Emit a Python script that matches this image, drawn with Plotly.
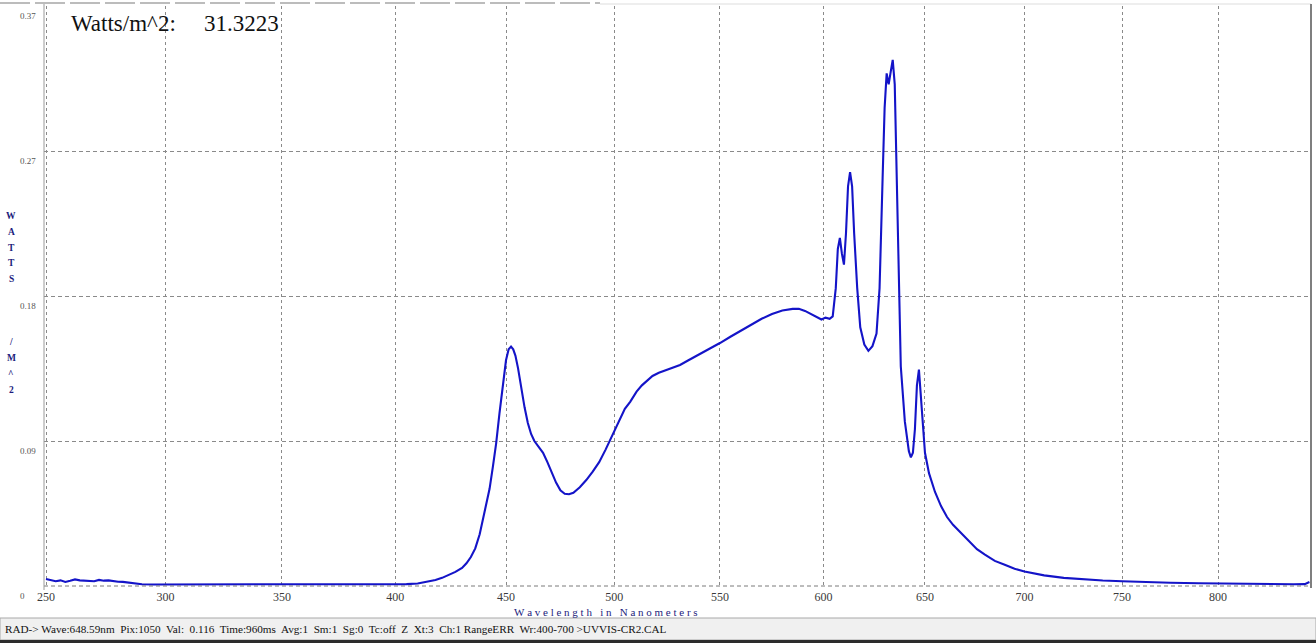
import numpy as np
import plotly.graph_objects as go

# ---------------- data ----------------
wavelength_nm = [
    250, 252, 254, 256, 258, 260, 262, 264, 266, 268, 270, 272, 274, 276, 278, 280,
    282, 284, 286, 288, 290, 295, 300, 310, 320, 330, 340, 350, 360, 370, 380, 390,
    400, 405, 410, 414, 418, 421, 424, 427, 430, 432, 434, 436, 438, 439.5, 441,
    442.5, 444, 445.5, 447, 448.5, 450, 451.2, 452.3, 453.3, 454.3, 455.5, 457,
    458.5, 460, 461.5, 463, 465, 467, 469, 471, 473, 475, 477, 479, 481, 484, 487,
    490, 493, 496, 498, 500.5, 503, 505, 507.5, 510.5, 513, 515.5, 518, 521, 524,
    528, 531, 535, 540, 545, 550, 555, 560, 565, 570, 575, 580, 585, 588, 591, 594,
    597, 599, 601, 603, 604.5, 606, 607, 608, 609, 610, 611, 612, 613, 614, 615,
    616.5, 618, 620, 622, 624, 626, 627.5, 629, 630, 631, 632, 633, 634, 635, 636,
    637, 638, 640, 642, 643, 644, 645, 646, 647, 648, 649, 650, 652, 655, 658, 661,
    664, 667, 670, 673, 676, 680, 685, 690, 695, 700, 710, 720, 730, 740, 750, 760,
    775, 790, 800, 820, 840, 846, 848.5,
]
irradiance_w_m2 = [
    0.0045, 0.0038, 0.0030, 0.0036, 0.0026, 0.0033, 0.0042, 0.0036, 0.0033, 0.0034,
    0.0030, 0.0039, 0.0034, 0.0036, 0.0029, 0.0027, 0.0026, 0.0022, 0.0018, 0.0012,
    0.0011, 0.0010, 0.0010, 0.0009, 0.0009, 0.0008, 0.0009, 0.0008, 0.0008, 0.0008,
    0.0009, 0.0009, 0.0010, 0.0012, 0.0016, 0.0025, 0.0038, 0.0052, 0.0070, 0.0090,
    0.0115, 0.0145, 0.0185, 0.0240, 0.0330, 0.0420, 0.0510, 0.0620, 0.0760, 0.0910,
    0.1100, 0.1280, 0.1440, 0.1510, 0.1527, 0.1510, 0.1470, 0.1390, 0.1260, 0.1140,
    0.1040, 0.0970, 0.0925, 0.0890, 0.0850, 0.0790, 0.0720, 0.0660, 0.0610, 0.0588,
    0.0585, 0.0595, 0.0630, 0.0676, 0.0730, 0.0790, 0.0870, 0.0930, 0.1000, 0.1080,
    0.1130, 0.1175, 0.1240, 0.1280, 0.1310, 0.1340, 0.1360, 0.1375, 0.1395, 0.1410,
    0.1440, 0.1475, 0.1510, 0.1550, 0.1590, 0.1630, 0.1670, 0.1705, 0.1735, 0.1758,
    0.1768, 0.1768, 0.1755, 0.1735, 0.1712, 0.1700, 0.1712, 0.1705, 0.1720, 0.1900,
    0.2150, 0.2220, 0.2120, 0.2050, 0.2250, 0.2550, 0.2640, 0.2550, 0.2250, 0.1900,
    0.1650, 0.1540, 0.1500, 0.1530, 0.1610, 0.1900, 0.2600, 0.3050, 0.3270, 0.3200,
    0.3280, 0.3356, 0.3200, 0.2600, 0.1900, 0.1400, 0.1050, 0.0860, 0.0820, 0.0850,
    0.1000, 0.1280, 0.1380, 0.1200, 0.0980, 0.0850, 0.0720, 0.0600, 0.0510, 0.0440,
    0.0390, 0.0350, 0.0310, 0.0270, 0.0235, 0.0200, 0.0160, 0.0135, 0.0110, 0.0092,
    0.0068, 0.0052, 0.0042, 0.0035, 0.0030, 0.0025, 0.0021, 0.0018, 0.0016, 0.0013,
    0.0011, 0.0012, 0.0025,
]

x_tick_nm = [250, 300, 350, 400, 450, 500, 550, 600, 650, 700, 750, 800]
x_tick_text = [str(v) for v in x_tick_nm]
y_tick_vals = [0, 0.0925, 0.185, 0.2775, 0.37]
y_tick_text = ["0", "0.09", "0.18", "0.27", "0.37"]

title_label = "Watts/m^2:"
title_value = "31.3223"
x_title = "Wavelength in Nanometers"
y_title_letters = ["W", "A", "T", "T", "S", "", "", "", "/", "M", "^", "2"]
status_text = ("RAD-> Wave:648.59nm  Pix:1050  Val:  0.116  Time:960ms  Avg:1  Sm:1  "
               "Sg:0  Tc:off  Z  Xt:3  Ch:1 RangeERR  Wr:400-700 >UVVIS-CR2.CAL")

# ------------- spectrometer calibration (pixel -> wavelength) -------------
# wavelength = c0 + c1*p + c2*p^2 ; axis is linear in detector pixel
C0, C1, C2 = 231.128, 0.40803, 4.8457e-5


def to_pix(w):
    w = np.asarray(w, dtype=float)
    return (-C1 + np.sqrt(C1 * C1 - 4 * C2 * (C0 - w))) / (2 * C2)


W, H = 1316, 643
L, R, T, B = 44, 1311, 6, 586          # plot area in screen px
X_RANGE = [L, R]                        # pixel axis == screen px


def xp(px):
    return (px - L) / (R - L)


def yp(py):
    return (B - py) / (B - T)


SERIF = "Liberation Serif, Times New Roman, serif"
NAVY = "#1c1c7c"

fig = go.Figure()
fig.add_trace(go.Scatter(
    x=to_pix(wavelength_nm), y=irradiance_w_m2, mode="lines",
    line=dict(color="#1414c8", width=2.1), hoverinfo="skip", showlegend=False,
))

annotations = []
# y tick labels (left aligned, just below each grid line)
for v, t in zip(y_tick_vals, y_tick_text):
    annotations.append(dict(
        x=xp(18), y=v, xref="paper", yref="y", text=t, showarrow=False,
        xanchor="left", yanchor="middle", yshift=-10,
        font=dict(family=SERIF, size=9, color="#555555"),
    ))
# vertical y-axis title letters
for i, ch in enumerate(y_title_letters):
    if ch:
        annotations.append(dict(
            x=xp(11), y=yp(216 + i * 15.8), xref="paper", yref="paper",
            text="<b>%s</b>" % ch, showarrow=False, xanchor="center",
            yanchor="middle", font=dict(family=SERIF, size=9.5, color=NAVY),
        ))
# x title with spaced letters
annotations.append(dict(
    x=xp(606), y=yp(612), xref="paper", yref="paper",
    text="&nbsp;".join(list(x_title)),
    showarrow=False, xanchor="center", yanchor="middle",
    font=dict(family=SERIF, size=11, color=NAVY),
))
# readout
annotations.append(dict(
    x=xp(69), y=yp(23), xref="paper", yref="paper", text=title_label,
    showarrow=False, xanchor="left", yanchor="middle",
    font=dict(family=SERIF, size=23, color="#111111"),
))
annotations.append(dict(
    x=xp(202), y=yp(23), xref="paper", yref="paper", text=title_value,
    showarrow=False, xanchor="left", yanchor="middle",
    font=dict(family=SERIF, size=23, color="#111111"),
))
# status bar text
annotations.append(dict(
    x=xp(3), y=yp(629), xref="paper", yref="paper", text=status_text,
    showarrow=False, xanchor="left", yanchor="middle",
    font=dict(family=SERIF, size=11.2, color="#111111"),
))

shapes = [
    # status bar
    dict(type="rect", xref="paper", yref="paper", x0=xp(0), x1=xp(W),
         y0=yp(618), y1=yp(640), fillcolor="#f0f0f0",
         line=dict(color="#a8a8a8", width=1), layer="below"),
    dict(type="rect", xref="paper", yref="paper", x0=xp(0), x1=xp(W),
         y0=yp(640), y1=yp(643), fillcolor="#2c2c2c", line=dict(width=0)),
    # top dashed strip
    dict(type="line", xref="paper", yref="paper", x0=xp(0), x1=xp(600),
         y0=yp(3), y1=yp(3), line=dict(color="#7a7a7a", width=1.2, dash="30px,5px")),
    dict(type="line", xref="paper", yref="paper", x0=xp(600), x1=xp(R),
         y0=yp(4), y1=yp(4), line=dict(color="#dddddd", width=1)),
    # baseline (dashed)
    dict(type="line", xref="paper", yref="paper", x0=0, x1=1, y0=0, y1=0,
         line=dict(color="#7a7a7a", width=1, dash="4px,3px")),
    # plot borders
    dict(type="line", xref="paper", yref="paper", x0=0, x1=0, y0=yp(B + 4), y1=yp(4),
         line=dict(color="#9a9a9a", width=1)),
    dict(type="line", xref="paper", yref="paper", x0=1, x1=1, y0=yp(B + 2), y1=yp(4),
         line=dict(color="#555555", width=1.5)),
]

fig.update_layout(
    width=W, height=H, autosize=False,
    margin=dict(l=L, r=W - R, t=T, b=H - B, pad=0),
    paper_bgcolor="white", plot_bgcolor="white",
    showlegend=False,
    xaxis=dict(
        range=X_RANGE, tickmode="array", tickvals=to_pix(x_tick_nm),
        ticktext=x_tick_text, showgrid=True, gridcolor="#8a8a8a", gridwidth=1,
        griddash="3px,3px", zeroline=False, showline=False, ticks="",
        ticklabelstandoff=2,
        tickfont=dict(family=SERIF, size=12, color="#3a3a3a"), fixedrange=True,
    ),
    yaxis=dict(
        range=[0, 0.37], tickmode="array", tickvals=y_tick_vals[1:4],
        showticklabels=False, showgrid=True, gridcolor="#8a8a8a", gridwidth=1,
        griddash="4px,3px", zeroline=False, showline=False, ticks="",
        fixedrange=True,
    ),
    annotations=annotations,
    shapes=shapes,
)

fig.write_html("out.html", config={"displayModeBar": False, "staticPlot": True},
               post_script="document.body.style.margin='0';")
